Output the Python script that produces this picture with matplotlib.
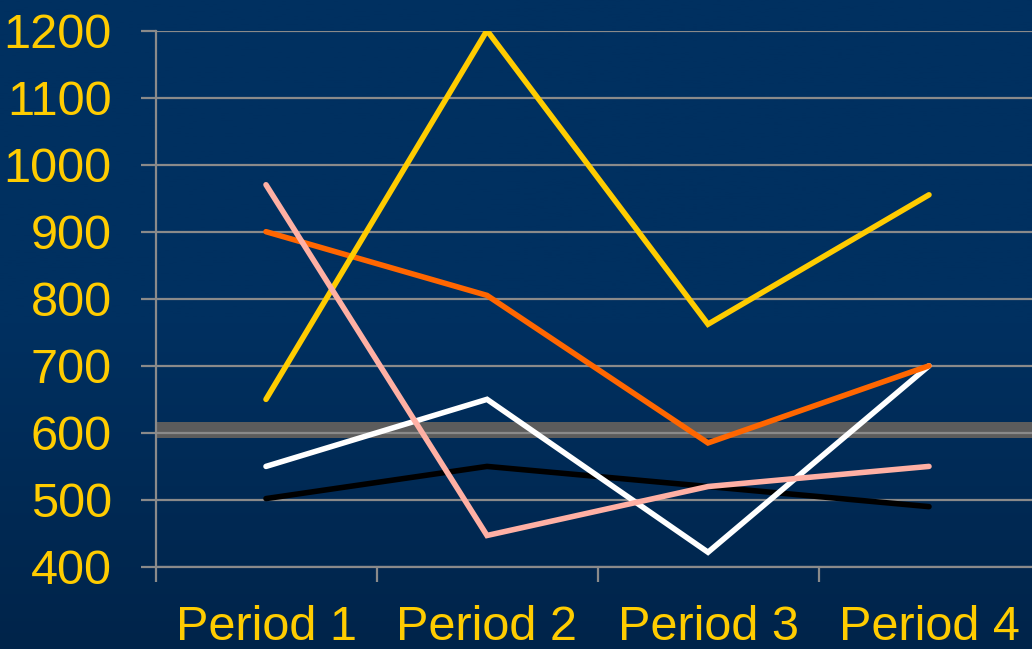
import numpy as np
import matplotlib
matplotlib.use("Agg")
import matplotlib.pyplot as plt
from matplotlib.colors import LinearSegmentedColormap

categories = ["Period 1", "Period 2", "Period 3", "Period 4"]
black_vals = [502, 550, 520, 490]
white_vals = [550, 650, 422, 700]
orange_vals = [900, 805, 585, 700]
yellow_vals = [650, 1200, 762, 955]
pink_vals = [970, 447, 520, 550]
band_low, band_high = 592, 616
y_ticks = [400, 500, 600, 700, 800, 900, 1000, 1100, 1200]

W, H = 1032, 649
fig = plt.figure(figsize=(W / 100, H / 100), dpi=100)

# gradient background
bg = fig.add_axes([0, 0, 1, 1], zorder=-10)
cmap = LinearSegmentedColormap.from_list("bg", ["#003060", "#003060", "#00244a"])
grad = np.linspace(0, 1, 256).reshape(-1, 1)
bg.imshow(grad, aspect="auto", cmap=cmap, extent=[0, 1, 0, 1], origin="upper")
bg.axis("off")

ax = fig.add_axes([155.5 / W, 82 / H, 884 / W, 536.5 / H])
ax.patch.set_alpha(0)

x = np.arange(1, len(categories) + 1)
ax.axhspan(band_low, band_high, color="#5c5c5c", zorder=1, lw=0)
for yv in y_ticks:
    ax.axhline(yv, color="#8a8a8a", lw=1.6, zorder=2)

series = [(black_vals, "#000000"), (white_vals, "#ffffff"), (orange_vals, "#ff6600"),
          (yellow_vals, "#ffcc00"), (pink_vals, "#ffb0a4")]
for vals, col in series:
    ax.plot(x, vals, color=col, lw=4.0, solid_capstyle="round",
            solid_joinstyle="miter", zorder=3)

ax.set_xlim(0.5, 4.5)
ax.set_ylim(400, 1200)
ax.set_yticks(y_ticks)
ax.set_yticklabels([str(v) for v in y_ticks])
ax.set_xticks(x)
ax.set_xticklabels(categories)
ax.set_xticks([0.5, 1.5, 2.5, 3.5, 4.5], minor=True)

for lab in ax.get_yticklabels() + ax.get_xticklabels():
    lab.set_fontfamily("Liberation Sans")
    lab.set_fontsize(35)
    lab.set_color("#ffcc00")

ax.tick_params(axis="y", which="major", direction="out", length=11, width=1.6,
               color="#8a8a8a", pad=20.5)
ax.tick_params(axis="x", which="major", length=0, pad=27)
ax.tick_params(axis="x", which="minor", direction="out", length=11, width=1.6,
               color="#8a8a8a")

for s in ["top", "right"]:
    ax.spines[s].set_visible(False)
for s in ["left", "bottom"]:
    ax.spines[s].set_color("#8a8a8a")
    ax.spines[s].set_linewidth(1.6)

fig.savefig("out.png", dpi=100)
